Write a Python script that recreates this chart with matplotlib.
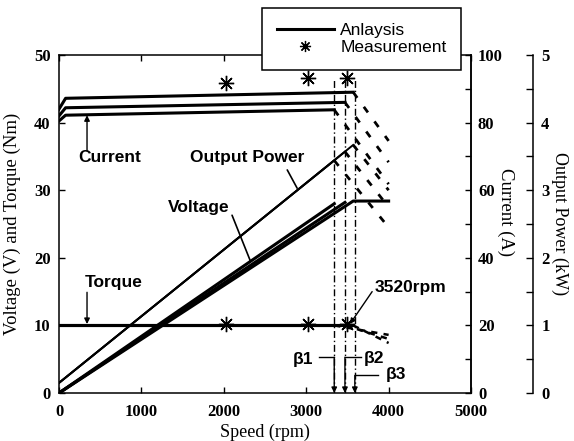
import matplotlib
matplotlib.use('Agg')
import matplotlib.pyplot as plt
from matplotlib.ticker import MultipleLocator

plt.rcParams['font.family'] = ['Liberation Serif', 'DejaVu Serif']
plt.rcParams['font.weight'] = 'bold'

# values
beta_names = ['β1', 'β2', 'β3']
beta_speed = [3340, 3470, 3590]          # rpm where each beta line sits
limit_speed = [3340, 3470, 3570]         # end of each analysis curve
knee_speed = 80
end_speed = 4000

current_start = [80.5, 82.0, 84.0]       # A
current_knee = [82.2, 84.4, 87.2]
current_end = [83.8, 86.0, 89.0]
current_drop = [61.8, 68.3, 74.6]        # A at 4000 rpm (dashed)

power_start = 0.15                       # kW
power_end = [3.44, 3.57, 3.67]
power_drop = [2.45, 2.75, 3.0]

voltage_end = [28.0, 28.2, 28.4]         # V
voltage_limit = 28.4

torque_level = 10.0                      # Nm
torque_drop = [8.6, 8.0, 7.4]

meas_speed = [2030, 3020, 3500]
meas_current = [91.8, 93.2, 93.2]
meas_torque = [10.2, 10.2, 10.2]

fig = plt.figure(figsize=(5.74, 4.41), dpi=100)
ax = fig.add_axes([0.1028, 0.1088, 0.7178, 0.7664])
ax2 = ax.twinx()
ax3 = ax.twinx()
ax3.spines['right'].set_position(('axes', 1.150))
for a in (ax2, ax3):
    for s in ('top', 'left', 'bottom'):
        a.spines[s].set_visible(False)
for s in ax.spines.values():
    s.set_linewidth(1.1)
ax2.spines['right'].set_linewidth(1.1)
ax3.spines['right'].set_linewidth(1.1)

# voltage and torque on the left scale
for i in range(3):
    vx = [0, limit_speed[i]]
    vy = [0, voltage_end[i]]
    if i == 2:
        vx.append(end_speed)
        vy.append(voltage_limit)
    ax.plot(vx, vy, color='black', lw=2.2)
    ax.plot([0, limit_speed[i]], [torque_level, torque_level], color='black', lw=2.2)
    ax.plot([limit_speed[i], end_speed], [torque_level, torque_drop[i]],
            color='black', lw=1.8, ls=(0, (2.5, 2.5)))
    ax.plot([beta_speed[i], beta_speed[i]], [0, 46.5], color='black', lw=1.0,
            ls=(0, (5, 2, 1, 2)))

# current on the first right scale
for i in range(3):
    ax2.plot([0, knee_speed, limit_speed[i]],
             [current_start[i], current_knee[i], current_end[i]],
             color='black', lw=2.2)
    ax2.plot([limit_speed[i], end_speed], [current_end[i], current_drop[i]],
             color='black', lw=2.0, ls=(0, (2.5, 4)))

# output power on the outer right scale
for i in range(3):
    ax3.plot([0, limit_speed[i]], [power_start, power_end[i]], color='black', lw=1.4)
    ax3.plot([limit_speed[i], end_speed], [power_end[i], power_drop[i]],
             color='black', lw=2.0, ls=(0, (2.5, 4)))

star = (8, 2, 0)
ax2.plot(meas_speed, meas_current, ls='none', marker=star, ms=11, mec='black', mew=1.0)
ax.plot(meas_speed, meas_torque, ls='none', marker=star, ms=11, mec='black', mew=1.0)

# axes, ticks
ax.set_xlim(0, 5000)
ax.set_ylim(0, 50)
ax2.set_ylim(0, 100)
ax3.set_ylim(0, 5)
ax.xaxis.set_major_locator(MultipleLocator(1000))
ax.yaxis.set_major_locator(MultipleLocator(10))
ax2.yaxis.set_major_locator(MultipleLocator(20))
ax2.yaxis.set_minor_locator(MultipleLocator(10))
ax3.yaxis.set_major_locator(MultipleLocator(1))
ax3.yaxis.set_minor_locator(MultipleLocator(0.5))
ax.tick_params(direction='in', top=True, right=False, length=4, width=1,
               labelsize=12, pad=6)
ax.tick_params(axis='x', pad=8)
ax2.tick_params(axis='y', which='both', direction='in', length=4, width=1,
                labelsize=12, pad=5)
ax3.tick_params(axis='y', which='both', direction='in', length=5, width=1,
                labelsize=12, pad=6)

ax.set_xlabel('Speed (rpm)', fontsize=13, fontweight='normal')
ax.xaxis.set_label_coords(0.5, -0.09)
ax.set_ylabel('Voltage (V) and Torque (Nm)', fontsize=13.5, fontweight='normal')
ax.yaxis.set_label_coords(-0.092, 0.5)
ax2.set_ylabel('Current (A)', fontsize=13.5, fontweight='normal', rotation=270,
               va='center')
ax2.yaxis.set_label_coords(1.083, 0.535)
ax3.set_ylabel('Output Power (kW)', fontsize=13, fontweight='normal', rotation=270,
               va='center')
ax3.yaxis.set_label_coords(1.216, 0.5)

# annotations
sans = dict(family=['Liberation Sans', 'DejaVu Sans'], fontweight='bold', fontsize=12.5)
arrow = dict(arrowstyle='-|>', color='black', lw=1.0, mutation_scale=8,
             shrinkA=0, shrinkB=0)
plain = dict(arrowstyle='-', color='black', lw=1.2, shrinkA=0, shrinkB=0)

ax.text(620, 34.8, 'Current', ha='center', va='center', **sans)
ax.annotate('', xy=(340, 41.1), xytext=(340, 35.8), arrowprops=arrow)
ax.text(660, 16.3, 'Torque', ha='center', va='center', **sans)
ax.annotate('', xy=(340, 10.2), xytext=(340, 14.9), arrowprops=arrow)
ax.text(2280, 34.8, 'Output Power', ha='center', va='center', **sans)
ax.annotate('', xy=(2890, 30.3), xytext=(2770, 33.0), arrowprops=plain)
ax.text(1690, 27.5, 'Voltage', ha='center', va='center', **sans)
ax.annotate('', xy=(2320, 19.6), xytext=(2100, 26.3), arrowprops=plain)
ax.text(4270, 15.6, '3520rpm', ha='center', va='center', **sans)
ax.annotate('', xy=(3530, 10.2), xytext=(3800, 15.0), arrowprops=arrow)

beta_text = [(2960, 5.0), (3820, 5.1), (4090, 2.7)]
beta_level = [5.3, 5.3, 2.6]
beta_line_end = [3150, 3660, 3870]
for i in range(3):
    ax.text(beta_text[i][0], beta_text[i][1], beta_names[i], ha='center',
            va='center', **sans)
    ax.plot([beta_line_end[i], beta_speed[i]], [beta_level[i], beta_level[i]],
            color='black', lw=1.0)
    ax.annotate('', xy=(beta_speed[i], 0), xytext=(beta_speed[i], beta_level[i]),
                arrowprops=arrow)

# legend
h1, = ax.plot([], [], color='black', lw=2.2)
h2, = ax.plot([], [], ls='none', marker=star, ms=8, mec='black', mew=0.9)
leg = fig.legend([h1, h2], ['Anlaysis', 'Measurement'], loc='upper left',
                 bbox_to_anchor=(262 / 574, 1 - 8 / 441), borderaxespad=0,
                 prop=dict(family=['Liberation Sans', 'DejaVu Sans'],
                           weight='normal', size=12.5),
                 fancybox=False, framealpha=1, edgecolor='black',
                 handlelength=3.3, handletextpad=0.35, borderpad=0.85,
                 labelspacing=0.12)
leg.get_frame().set_linewidth(1.1)

fig.savefig('out.png', dpi=100)
